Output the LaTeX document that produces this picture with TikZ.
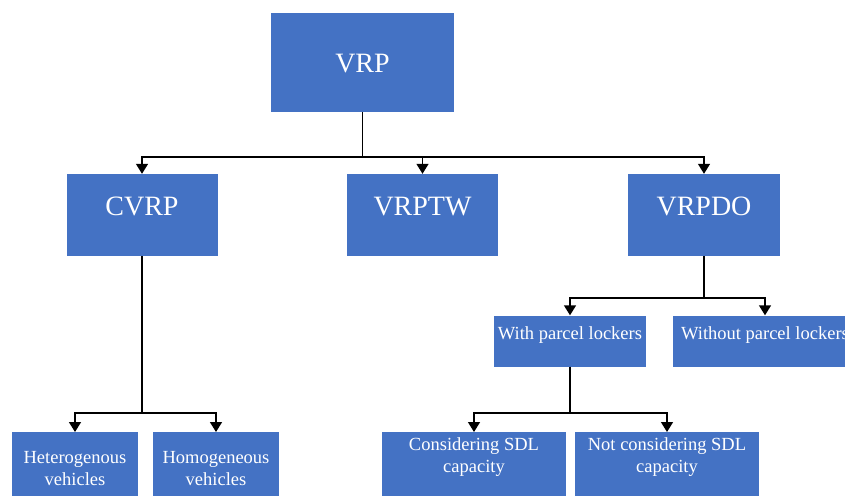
\documentclass[tikz,border=0pt]{standalone}
\usepackage{fontspec}
\setmainfont{Liberation Serif}
\usetikzlibrary{arrows.meta}
\definecolor{boxblue}{HTML}{4472C4}

\begin{document}
\begin{tikzpicture}[x=1pt,y=-1pt,
  box/.style={fill=boxblue,text=white,inner sep=0pt,align=center},
  big/.style={box,font=\fontsize{28}{32}\selectfont},
  small/.style={box,font=\fontsize{18.5}{22}\selectfont},
  link/.style={line width=1.4pt,-{Triangle[width=12pt,length=10pt]}}]
\useasboundingbox (0,0) rectangle (845,495);
\clip (0,0) rectangle (845,495);
\node[big,minimum width=183pt,minimum height=99pt,text height=20pt,text depth=1pt] (vrp) at (362.5,62.5) {VRP};
\node[big,minimum width=151pt,minimum height=82pt,text height=18pt,text depth=18pt] (cvrp) at (142,215) {CVRP};
\node[big,minimum width=151pt,minimum height=82pt,text height=18pt,text depth=18pt] (vrptw) at (422.5,215) {VRPTW};
\node[big,minimum width=152pt,minimum height=82pt,text height=18pt,text depth=18pt] (vrpdo) at (704,215) {VRPDO};
\node[small,minimum width=152pt,minimum height=51pt,text height=12pt,text depth=16pt] (withpl) at (570,341) {With parcel lockers};
\node[small,minimum width=184pt,minimum height=51pt,text height=12pt,text depth=16pt] (withoutpl) at (765,341) {Without parcel lockers};
\node[small,anchor=north,minimum width=126pt,minimum height=70pt,text height=40pt,text depth=4pt] (hetero) at (75,432) {Heterogenous\\vehicles};
\node[small,anchor=north,minimum width=126pt,minimum height=70pt,text height=40pt,text depth=4pt] (homo) at (216,432) {Homogeneous\\vehicles};
\node[small,anchor=north,minimum width=184pt,minimum height=70pt,text height=20pt,text depth=10pt] (sdl) at (474,432) {Considering SDL\\capacity};
\node[small,anchor=north,minimum width=184pt,minimum height=70pt,text height=20pt,text depth=10pt] (nosdl) at (667,432) {Not considering SDL\\capacity};
\coordinate (bus1) at (0,157);
\coordinate (bus2) at (0,298);
\coordinate (bus3) at (0,413);
\draw[link] (vrp.south) |- (cvrp.north |- bus1) -- (cvrp.north);
\draw[link] (vrp.south) |- (vrptw.north |- bus1) -- (vrptw.north);
\draw[link] (vrp.south) |- (vrpdo.north |- bus1) -- (vrpdo.north);
\draw[link] (cvrp.south) |- (hetero.north |- bus3) -- (hetero.north);
\draw[link] (cvrp.south) |- (homo.north |- bus3) -- (homo.north);
\draw[link] (vrpdo.south) |- (withpl.north |- bus2) -- (withpl.north);
\draw[link] (vrpdo.south) |- (withoutpl.north |- bus2) -- (withoutpl.north);
\draw[link] (withpl.south) |- (sdl.north |- bus3) -- (sdl.north);
\draw[link] (withpl.south) |- (nosdl.north |- bus3) -- (nosdl.north);
\end{tikzpicture}
\end{document}
